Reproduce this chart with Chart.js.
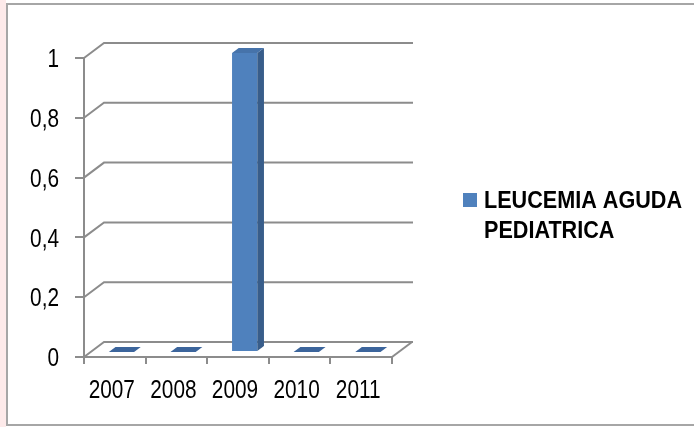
<!DOCTYPE html>
<html>
<head>
<meta charset="utf-8">
<script src="https://cdn.jsdelivr.net/npm/chart.js@4.4.0/dist/chart.umd.min.js"></script>
<style>
  html, body { margin: 0; padding: 0; background: #fff; }
  canvas { display: block; }
</style>
</head>
<body>
<canvas id="grafico" width="694" height="427"></canvas>
<script>
// datos del grafico
const anos = ['2007', '2008', '2009', '2010', '2011'];
const casos = [0, 0, 1, 0, 0];
const marcasY = [0, 0.2, 0.4, 0.6, 0.8, 1];
const serie = 'LEUCEMIA AGUDA PEDIATRICA';

const FUENTE = "'Liberation Sans', Arial, sans-serif";
const GRIS = '#8c8c8c';
const DX = 20, DY = -15;   // profundidad de la pared 3D
const ANGOSTO = 0.8;       // texto estrecho tipo Arial Narrow

// texto comprimido en horizontal
function textoAngosto(ctx, txt, x, y, escala) {
  ctx.save();
  ctx.translate(x, y);
  ctx.scale(escala, 1);
  ctx.fillText(txt, 0, 0);
  ctx.restore();
}

const efecto3d = {
  id: 'efecto3d',
  beforeDraw(chart) {
    const ctx = chart.ctx;
    ctx.save();
    ctx.fillStyle = '#fdeaea';
    ctx.fillRect(0, 0, 6, chart.height);
    ctx.strokeStyle = '#a6a6a6';
    ctx.lineWidth = 2;
    ctx.beginPath();
    ctx.moveTo(chart.width, 4);
    ctx.lineTo(7, 4);
    ctx.lineTo(7, 425);
    ctx.lineTo(chart.width, 425);
    ctx.stroke();
    ctx.restore();
  },
  beforeDatasetsDraw(chart) {
    // lineas de division: diagonal + pared del fondo
    const ctx = chart.ctx;
    const a = chart.chartArea;
    const ys = chart.scales.y;
    ctx.save();
    ctx.strokeStyle = GRIS;
    ctx.lineWidth = 2;
    ys.ticks.forEach(t => {
      const y = ys.getPixelForValue(t.value);
      ctx.beginPath();
      ctx.moveTo(a.left, y);
      ctx.lineTo(a.left + DX, y + DY);
      ctx.lineTo(a.right + DX + 1, y + DY);
      ctx.stroke();
    });
    // lado derecho del piso
    ctx.beginPath();
    ctx.moveTo(a.right, a.bottom);
    ctx.lineTo(a.right + DX, a.bottom + DY);
    ctx.stroke();
    ctx.restore();
  },
  afterDatasetsDraw(chart) {
    const ctx = chart.ctx;
    const meta = chart.getDatasetMeta(0);
    const ox = DX / 3, oy = DY / 3;
    ctx.save();
    meta.data.forEach(el => {
      const p = el.getProps(['x', 'y', 'base', 'width'], true);
      const xl = p.x - p.width / 2 + ox;
      const xr = p.x + p.width / 2 + ox;
      const top = p.y + oy;
      const bot = p.base + oy;
      const alto = bot - top > 0.5;
      if (alto) {
        ctx.fillStyle = '#4f81bd';
        ctx.fillRect(xl, top, xr - xl, bot - top);
        ctx.fillStyle = '#385d8a';
        ctx.beginPath();
        ctx.moveTo(xr, top);
        ctx.lineTo(xr + ox, top + oy);
        ctx.lineTo(xr + ox, bot + oy);
        ctx.lineTo(xr, bot);
        ctx.closePath();
        ctx.fill();
      }
      ctx.fillStyle = alto ? '#4673aa' : '#3c659c';
      ctx.beginPath();
      ctx.moveTo(xl, top);
      ctx.lineTo(xr, top);
      ctx.lineTo(xr + ox, top + oy);
      ctx.lineTo(xl + ox, top + oy);
      ctx.closePath();
      ctx.fill();
    });
    ctx.restore();
  },
  afterDraw(chart) {
    const ctx = chart.ctx;
    const xs = chart.scales.x;
    const ys = chart.scales.y;
    ctx.save();
    ctx.fillStyle = '#000';
    ctx.font = '26px ' + FUENTE;

    // etiquetas del eje Y
    ctx.textAlign = 'right';
    ctx.textBaseline = 'middle';
    ys.ticks.forEach(t => {
      textoAngosto(ctx, t.label, 59, ys.getPixelForValue(t.value) + 2, ANGOSTO);
    });

    // etiquetas del eje X
    ctx.textAlign = 'center';
    ctx.textBaseline = 'alphabetic';
    xs.ticks.forEach((t, i) => {
      textoAngosto(ctx, xs.getLabelForValue(t.value), xs.getPixelForValue(i) - 3, 398, ANGOSTO);
    });

    // leyenda a la derecha
    const ds = chart.data.datasets[0];
    ctx.fillStyle = '#4f81bd';
    ctx.fillRect(463, 193, 14, 14);
    ctx.fillStyle = '#000';
    ctx.font = 'bold 24px ' + FUENTE;
    ctx.textAlign = 'left';
    const esc = 0.9;
    const lineas = [];
    let actual = '';
    ds.label.split(' ').forEach(w => {
      const prueba = actual ? actual + ' ' + w : w;
      if (ctx.measureText(prueba).width * esc > 205 && actual) {
        lineas.push(actual);
        actual = w;
      } else {
        actual = prueba;
      }
    });
    lineas.push(actual);
    lineas.forEach((l, i) => textoAngosto(ctx, l, 484, 208 + i * 30, esc));
    ctx.restore();
  }
};

new Chart(document.getElementById('grafico'), {
  type: 'bar',
  data: {
    labels: anos,
    datasets: [{
      label: serie,
      data: casos,
      backgroundColor: 'rgba(0,0,0,0)',
      borderWidth: 0,
      categoryPercentage: 1,
      barPercentage: 0.41
    }]
  },
  options: {
    responsive: false,
    animation: false,
    layout: { padding: { left: 0, right: 302, top: 58, bottom: 0 } },
    plugins: {
      legend: { display: false },
      tooltip: { enabled: false }
    },
    scales: {
      x: {
        grid: { drawOnChartArea: false, tickLength: 7, color: GRIS, lineWidth: 2 },
        border: { color: GRIS, width: 2 },
        ticks: { padding: 9, color: 'rgba(0,0,0,0)', font: { family: FUENTE, size: 20 } },
        afterFit(s) { s.height = 70; }
      },
      y: {
        min: 0,
        max: 1,
        afterBuildTicks(s) { s.ticks = marcasY.map(v => ({ value: v })); },
        grid: { drawOnChartArea: false, tickLength: 9, color: GRIS, lineWidth: 2 },
        border: { color: GRIS, width: 2 },
        ticks: {
          padding: 16,
          color: 'rgba(0,0,0,0)',
          font: { family: FUENTE, size: 20 },
          callback: v => String(Math.round(v * 10) / 10).replace('.', ',')
        },
        afterFit(s) { s.width = 84; }
      }
    }
  },
  plugins: [efecto3d]
});
</script>
</body>
</html>
